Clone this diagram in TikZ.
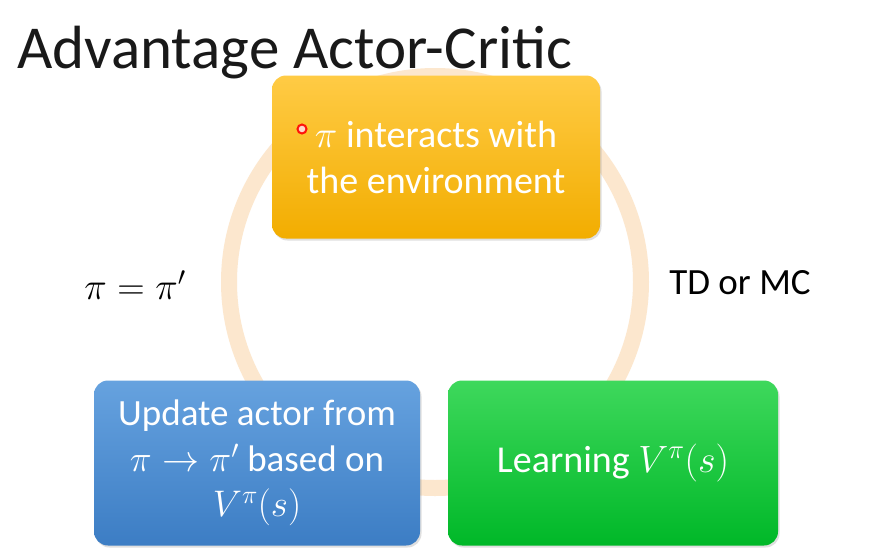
\RequirePackage{fix-cm}
\documentclass[tikz,border=0pt]{standalone}
\usepackage{fontspec}
\setmainfont{Carlito}
\usetikzlibrary{shadows}
\definecolor{ringc}{HTML}{FCE7CE}
\definecolor{orT}{HTML}{FFCB45}
\definecolor{orB}{HTML}{F2AD00}
\definecolor{blT}{HTML}{66A2DF}
\definecolor{blB}{HTML}{3C7DC4}
\definecolor{grT}{HTML}{3ED85C}
\definecolor{grB}{HTML}{00B828}
\tikzset{
  box/.style={rectangle, rounded corners=14pt, text=white, align=center,
    font=\fontsize{38}{46}\selectfont, inner sep=0pt,
    drop shadow={shadow xshift=1.5pt, shadow yshift=-2pt, opacity=0.25}},
  lbl/.style={text=black, inner sep=0pt},
}
\begin{document}
\begin{tikzpicture}[x=1pt,y=-1pt]
\useasboundingbox[fill=white] (0,0) rectangle (871,550);
% title
\node[lbl, anchor=base west, font=\fontsize{61}{72}\selectfont, text=black!90] (title) at (17,68) {Advantage Actor-Critic};
% ring
\coordinate (ctr) at (435,282);
\draw[ringc, line width=16pt] (ctr) circle[radius=206];
% boxes
\node[box, top color=orT, bottom color=orB, minimum width=328pt, minimum height=163pt] (env) at (436,157)
  {$\pi$ interacts with\\the environment};
\node[box, top color=blT, bottom color=blB, minimum width=326pt, minimum height=165pt, font=\fontsize{37}{44}\selectfont] (upd) at (257,463)
  {Update actor from\\[2pt]$\pi\rightarrow\pi'$ based on\\[1pt]$V^{\pi}(s)$};
\node[box, top color=grT, bottom color=grB, minimum width=330pt, minimum height=165pt] (learn) at (613,463)
  {Learning $V^{\pi}(s)$};
% side labels
\node[lbl, font=\fontsize{38}{46}\selectfont] (eq) at (135,285) {$\pi=\pi'$};
\node[lbl, font=\fontsize{37}{44}\selectfont] (td) at (740,283) {TD or MC};
% pointer mark
\node[circle, draw=red, line width=2pt, fill=red!15, minimum size=9pt, inner sep=0pt, opacity=0.9] (dot) at (302,129) {};
\end{tikzpicture}
\end{document}
